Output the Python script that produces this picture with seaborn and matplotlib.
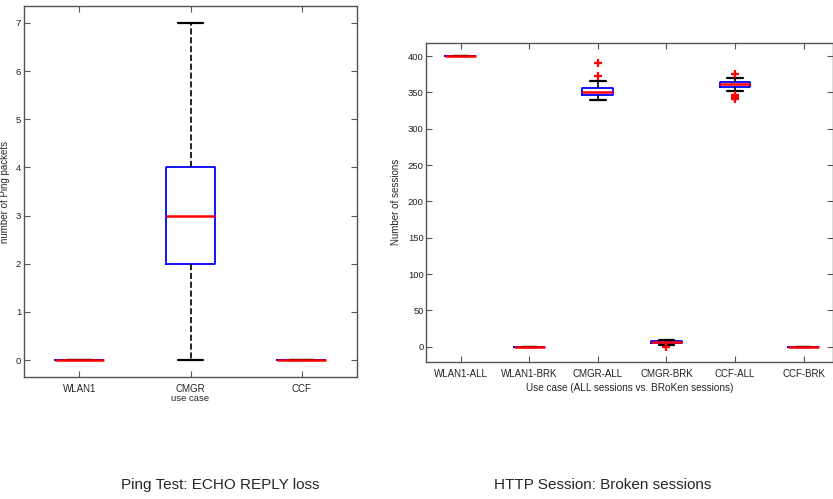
import matplotlib
matplotlib.use("Agg")
import matplotlib.pyplot as plt
import seaborn as sns
import pandas as pd

# ---- data: Ping test (number of lost ECHO REPLY packets) ----
ping_cases = ["WLAN1", "CMGR", "CCF"]
ping_wlan1 = [0, 0, 0, 0, 0, 0, 0]
ping_cmgr = [0, 2, 2, 3, 4, 4, 7]
ping_ccf = [0, 0, 0, 0, 0, 0, 0]

# ---- data: HTTP sessions (all vs broken) ----
http_cases = ["WLAN1-ALL", "WLAN1-BRK", "CMGR-ALL", "CMGR-BRK", "CCF-ALL", "CCF-BRK"]
wlan1_all = [400, 400, 400, 400, 400, 400, 400]
wlan1_brk = [0, 0, 0, 0, 0, 0, 0]
cmgr_all = [340, 344, 346, 347, 349, 350, 351, 353, 355, 356, 366, 373, 391]
cmgr_brk = [0, 2, 5, 5, 6, 6, 8, 8, 8, 10]
ccf_all = [341, 343, 345, 347, 352, 356, 358, 359, 359, 360, 360, 361, 361,
           361, 362, 362, 363, 363, 364, 365, 366, 368, 370, 370, 376]
ccf_brk = [0, 0, 0, 0, 0, 0, 0]

ping_yticks = [0, 1, 2, 3, 4, 5, 6, 7]
http_yticks = [0, 50, 100, 150, 200, 250, 300, 350, 400]

titles = ["Ping Test: ECHO REPLY loss", "HTTP Session: Broken sessions"]


def long_df(cases, series):
    rows = []
    for c, vals in zip(cases, series):
        for v in vals:
            rows.append((c, v))
    return pd.DataFrame(rows, columns=["case", "value"])


ping_df = long_df(ping_cases, [ping_wlan1, ping_cmgr, ping_ccf])
http_df = long_df(http_cases, [wlan1_all, wlan1_brk, cmgr_all, cmgr_brk, ccf_all, ccf_brk])

sns.set_style("ticks")
plt.rcParams["font.family"] = ["Liberation Sans", "DejaVu Sans"]

fig = plt.figure(figsize=(8.33, 4.99), dpi=100)
ax1 = fig.add_axes([0.0288, 0.2445, 0.3998, 0.7435])
ax2 = fig.add_axes([0.512, 0.2751, 0.488, 0.6393])

box_kw = dict(
    width=0.45,
    fill=False,
    linecolor="blue",
    boxprops=dict(color="blue", linewidth=1.3, solid_joinstyle="bevel"),
    medianprops=dict(color="red", linewidth=1.8, solid_capstyle="butt"),
    whiskerprops=dict(color="black", linestyle="--", linewidth=1.2),
    capprops=dict(color="black", linewidth=1.6),
    flierprops=dict(marker="+", markeredgecolor="red", markerfacecolor="red",
                    markersize=6, markeredgewidth=1.6),
)

sns.boxplot(data=ping_df, x="case", y="value", order=ping_cases, ax=ax1, **box_kw)
sns.boxplot(data=http_df, x="case", y="value", order=http_cases, ax=ax2, **box_kw)

ax1.set_xlim(-0.5, 2.5)
ax1.set_ylim(-0.35, 7.35)
ax1.set_yticks(ping_yticks)
ax1.set_ylabel("number of Ping packets", fontsize=7, labelpad=4)
ax1.set_xlabel("")
ax1.text(1, -0.8, "use case", ha="center", va="center", fontsize=6.8)

ax2.set_xlim(-0.5, 5.43)
ax2.set_ylim(-20.5, 418.5)
ax2.set_yticks(http_yticks)
ax2.set_ylabel("Number of sessions", fontsize=7, labelpad=5)
ax2.set_xlabel("Use case (ALL sessions vs. BRoKen sessions)", fontsize=7.2, labelpad=3)

for ax in (ax1, ax2):
    ax.tick_params(direction="in", length=4, width=0.8, colors="#555555",
                   labelcolor="#222222", labelsize=6.8, top=True, right=True)
    ax.tick_params(axis="x", labelsize=7, pad=5)
    ax.tick_params(axis="y", pad=2)
    for s in ax.spines.values():
        s.set_visible(True)
        s.set_color("#555555")
        s.set_linewidth(1.0)

fig.text(0.265, 0.028, titles[0], ha="center", va="center", fontsize=11)
fig.text(0.724, 0.028, titles[1], ha="center", va="center", fontsize=11)

fig.savefig("out.png", dpi=100)
